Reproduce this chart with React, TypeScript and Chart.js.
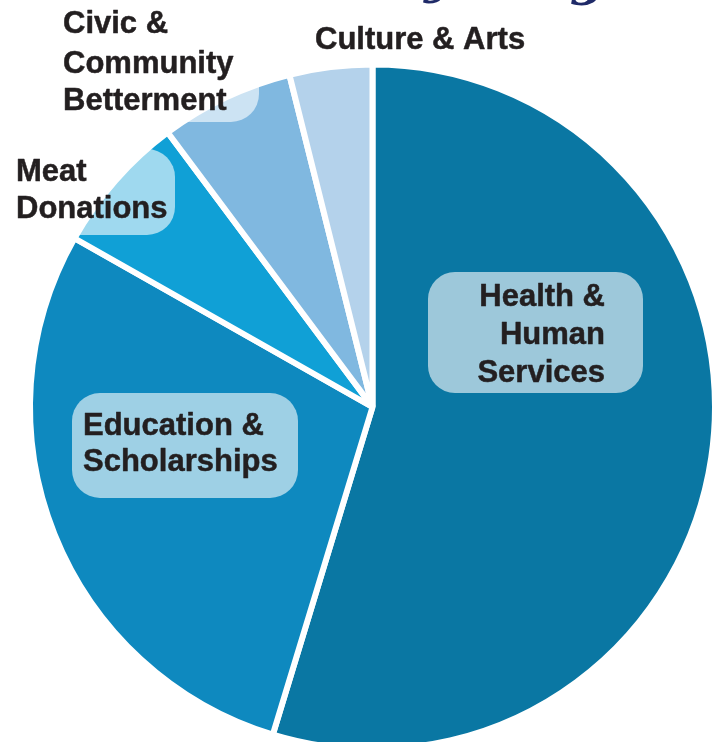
import React, { useEffect, useRef } from "react";
import { Chart, registerables } from "chart.js";

Chart.register(...registerables);

// ---- data ----
const categories = [
  "Health & Human Services",
  "Education & Scholarships",
  "Meat Donations",
  "Civic & Community Betterment",
  "Culture & Arts",
];
const shares = [54.7, 28.5, 6.6, 6.3, 3.9];

// label text lines (per category)
const labelLines = [
  ["Health &", "Human", "Services"],
  ["Education &", "Scholarships"],
  ["Meat", "Donations"],
  ["Civic &", "Community", "Betterment"],
  ["Culture & Arts"],
];

// ---- styles ----
const sliceColors = ["#0a77a3", "#0e89bf", "#10a0d6", "#80b8e0", "#b4d2eb"];
const FONT = "bold 31px Arial, Helvetica, sans-serif";
const TEXT_COLOR = "#231f20";
const BOX_FILL = "rgba(255,255,255,0.6)";

type LabelLayout = {
  box?: { x: number; y: number; w: number; h: number; r: number };
  align: CanvasTextAlign;
  x: number;
  baselines: number[];
};

const layouts: LabelLayout[] = [
  { box: { x: 428, y: 272, w: 215, h: 121, r: 27 }, align: "right", x: 605, baselines: [305.5, 344, 382] },
  { box: { x: 72, y: 393, w: 226, h: 105, r: 28 }, align: "left", x: 83, baselines: [435, 471] },
  { box: { x: 4, y: 149, w: 171, h: 86, r: 28 }, align: "left", x: 16, baselines: [181, 218] },
  { box: { x: 52, y: 2, w: 207, h: 120, r: 28 }, align: "left", x: 63, baselines: [33, 73, 110] },
  { align: "left", x: 315, baselines: [49] },
];

function roundRect(ctx: CanvasRenderingContext2D, x: number, y: number, w: number, h: number, r: number) {
  ctx.beginPath();
  ctx.moveTo(x + r, y);
  ctx.lineTo(x + w - r, y);
  ctx.arcTo(x + w, y, x + w, y + r, r);
  ctx.lineTo(x + w, y + h - r);
  ctx.arcTo(x + w, y + h, x + w - r, y + h, r);
  ctx.lineTo(x + r, y + h);
  ctx.arcTo(x, y + h, x, y + h - r, r);
  ctx.lineTo(x, y + r);
  ctx.arcTo(x, y, x + r, y, r);
  ctx.closePath();
}

const labelPlugin = {
  id: "pieLabels",
  afterDatasetsDraw(chart: any) {
    const ctx: CanvasRenderingContext2D = chart.ctx;
    ctx.save();
    layouts.forEach((l) => {
      if (l.box) {
        roundRect(ctx, l.box.x, l.box.y, l.box.w, l.box.h, l.box.r);
        ctx.fillStyle = BOX_FILL;
        ctx.fill();
      }
    });
    ctx.font = FONT;
    ctx.fillStyle = TEXT_COLOR;
    ctx.textBaseline = "alphabetic";
    ctx.strokeStyle = TEXT_COLOR;
    ctx.lineWidth = 0.5;
    ctx.lineJoin = "round";
    layouts.forEach((l, i) => {
      ctx.textAlign = l.align;
      labelLines[i].forEach((line, j) => {
        ctx.fillText(line, l.x, l.baselines[j]);
        ctx.strokeText(line, l.x, l.baselines[j]);
      });
    });
    // cut-off title fragments at the very top
    ctx.fillStyle = "#1f2a68";
    ctx.font = 'italic bold 50px "DejaVu Serif", serif';
    ctx.textAlign = "left";
    ctx.fillText("y", 424, -8);
    ctx.fillText("g", 570, -6);
    ctx.restore();
  },
};

export default function App() {
  const ref = useRef<HTMLCanvasElement | null>(null);

  useEffect(() => {
    if (!ref.current) return;
    const chart = new Chart(ref.current, {
      type: "pie",
      data: {
        labels: categories,
        datasets: [
          {
            data: shares,
            backgroundColor: sliceColors,
            borderColor: "#ffffff",
            borderWidth: 6,
            hoverOffset: 0,
          },
        ],
      },
      options: {
        responsive: false,
        animation: false,
        radius: 342.5,
        layout: { padding: 0 },
        plugins: {
          legend: { display: false },
          tooltip: { enabled: false },
          title: { display: false },
        },
        events: [],
      },
      plugins: [labelPlugin],
    });
    return () => chart.destroy();
  }, []);

  return (
    <div
      style={{
        position: "absolute",
        left: 0,
        top: 0,
        width: 721,
        height: 742,
        overflow: "hidden",
        background: "#ffffff",
      }}
    >
      <canvas ref={ref} width={745} height={814} style={{ display: "block", width: 745, height: 814 }} />
    </div>
  );
}
